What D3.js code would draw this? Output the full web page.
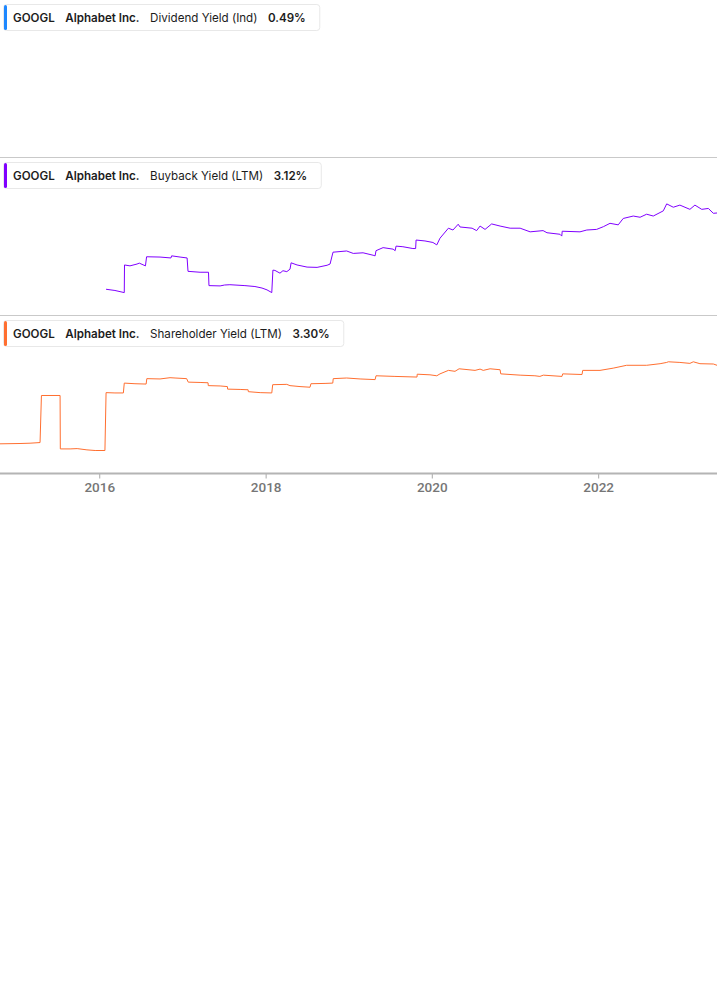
<!DOCTYPE html>
<html>
<head>
<meta charset="utf-8">
<script src="https://cdn.jsdelivr.net/npm/d3@7/dist/d3.min.js"></script>
<style>
  html, body { margin: 0; padding: 0; background: #fff; }
  svg { display: block; }
</style>
</head>
<body>
<svg id="chart" width="717" height="1005"></svg>
<script>
// ---------- DATA ----------
const ticker = "GOOGL";
const company = "Alphabet Inc.";
const seriesNames = ["Dividend Yield (Ind)", "Buyback Yield (LTM)", "Shareholder Yield (LTM)"];
const seriesLast = ["0.49%", "3.12%", "3.30%"];
const tickYears = [2016, 2018, 2020, 2022];

// Dividend yield: no visible history in the window
const dividendDates = [];
const dividendValues = [];

const buybackDates = [
  "2016-01-31","2016-03-10","2016-04-20","2016-04-21","2016-05-15","2016-06-15","2016-06-25","2016-07-22",
  "2016-07-27","2016-09-24","2016-11-11","2016-11-14","2016-12-21","2017-01-21",
  "2017-01-25","2017-03-19","2017-04-25",
  "2017-04-27","2017-06-15","2017-07-05","2017-07-28","2017-10-02","2017-11-15","2017-12-16","2018-01-07","2018-01-28",
  "2018-02-02","2018-02-11","2018-03-05","2018-03-18","2018-04-04","2018-04-18",
  "2018-04-23","2018-05-19","2018-07-02","2018-08-15","2018-09-28","2018-10-11",
  "2018-10-24","2018-12-23","2019-01-21","2019-03-05","2019-04-18","2019-04-27",
  "2019-05-01","2019-06-01","2019-07-15","2019-07-24",
  "2019-07-28","2019-08-27","2019-10-10","2019-10-22",
  "2019-10-24","2019-12-02","2020-01-06","2020-01-23",
  "2020-02-06","2020-03-14","2020-04-03","2020-04-26","2020-05-04","2020-06-26","2020-07-16","2020-07-31",
  "2020-08-22","2020-09-20","2020-10-27","2020-12-10","2021-01-23","2021-03-08","2021-05-04","2021-05-21",
  "2021-07-17","2021-07-25",
  "2021-07-27","2021-10-13","2021-11-12","2021-12-25","2022-01-24","2022-02-22","2022-03-30","2022-04-21",
  "2022-06-04","2022-07-04","2022-08-02","2022-08-31","2022-10-14","2022-10-29","2022-11-27","2022-12-26",
  "2023-02-08","2023-03-02","2023-04-01","2023-04-30","2023-05-22","2023-06-07"
];
const buybackValues = [
  0.61,0.57,0.50,1.41,1.38,1.44,1.47,1.38,
  1.68,1.67,1.64,1.71,1.67,1.64,
  1.20,1.17,1.17,
  0.73,0.72,0.75,0.76,0.73,0.70,0.65,0.59,0.50,
  1.24,1.23,1.14,1.22,1.19,1.27,
  1.48,1.41,1.34,1.33,1.40,1.44,
  1.83,1.87,1.79,1.81,1.73,1.71,
  1.88,1.98,1.93,1.88,
  2.03,2.01,1.95,1.95,
  2.23,2.20,2.15,2.07,
  2.29,2.62,2.56,2.75,2.66,2.62,2.54,2.69,
  2.58,2.76,2.69,2.62,2.62,2.50,2.54,2.47,
  2.42,2.36,
  2.52,2.50,2.56,2.58,2.67,2.78,2.73,2.94,
  3.02,2.98,3.08,3.02,3.19,3.42,3.31,3.38,
  3.24,3.38,3.24,3.27,3.11,3.12
];

const shareholderDates = [
  "2014-10-22","2015-01-18","2015-03-03","2015-04-16",
  "2015-04-22","2015-07-13",
  "2015-07-14","2015-08-26","2015-09-26","2015-11-08","2015-12-14","2016-01-26",
  "2016-01-31","2016-03-10","2016-04-16",
  "2016-04-20","2016-06-06","2016-07-25",
  "2016-07-28","2016-09-24","2016-11-07","2016-11-29","2017-01-19",
  "2017-01-26","2017-03-19","2017-04-23",
  "2017-04-24","2017-06-15","2017-07-17",
  "2017-07-18","2017-09-11","2017-10-16",
  "2017-10-17","2017-12-08","2018-01-28",
  "2018-02-01","2018-04-04","2018-04-18","2018-06-01","2018-07-15",
  "2018-07-19","2018-09-19","2018-10-23",
  "2018-10-25","2018-12-23","2019-02-20","2019-04-27",
  "2019-05-01","2019-07-23","2019-10-28",
  "2019-10-29","2019-12-24","2020-01-23","2020-02-06","2020-03-14","2020-04-12","2020-04-30","2020-07-09",
  "2020-07-31","2020-08-14","2020-09-13","2020-10-27",
  "2020-10-30","2021-01-23","2021-03-29","2021-04-20","2021-05-05","2021-07-26",
  "2021-07-29","2021-10-22",
  "2021-10-25","2022-01-09","2022-03-08","2022-05-06","2022-08-02","2022-09-30","2022-10-29","2022-11-05",
  "2022-12-26","2023-02-08","2023-02-23","2023-03-24","2023-05-22","2023-06-07"
];
const shareholderValues = [
  0.83,0.84,0.85,0.87,
  2.35,2.35,
  0.67,0.67,0.68,0.64,0.62,0.62,
  2.44,2.43,2.43,
  2.74,2.72,2.71,
  2.88,2.87,2.91,2.90,2.88,
  2.77,2.76,2.75,
  2.66,2.65,2.63,
  2.55,2.54,2.53,
  2.47,2.44,2.43,
  2.69,2.70,2.66,2.63,2.61,
  2.72,2.73,2.74,
  2.88,2.90,2.87,2.85,
  2.97,2.95,2.93,
  3.02,3.00,2.97,3.03,3.14,3.11,3.19,3.14,
  3.18,3.14,3.19,3.16,
  3.03,2.99,2.97,2.95,2.99,2.95,
  3.03,3.01,
  3.14,3.14,3.21,3.30,3.30,3.35,3.39,3.41,
  3.39,3.36,3.41,3.35,3.34,3.30
];

const seriesColors = ["#1e88ff", "#8000ff", "#ff6f30"];

// ---------- LAYOUT ----------
const W = 717;
const panelTops = [0, 158, 316];
const panelH = 157.6;
const axisY = 473.5;
const yDomains = [[0, 1], [-0.27, 4.93], [-0.1, 4.85]];

const svg = d3.select("#chart");
const parse = d3.utcParse("%Y-%m-%d");

const x = d3.scaleUtc()
  .domain([parse("2014-10-22"), parse("2023-06-07")])
  .range([0, W]);

const allSeries = [
  {dates: dividendDates, values: dividendValues},
  {dates: buybackDates, values: buybackValues},
  {dates: shareholderDates, values: shareholderValues}
];

// separators
[157.5, 315.5].forEach(yy => {
  svg.append("line").attr("x1", 0).attr("x2", W).attr("y1", yy).attr("y2", yy)
    .attr("stroke", "#c9c9c9").attr("stroke-width", 1);
});

allSeries.forEach((s, i) => {
  const top = panelTops[i];
  const bottom = i === 2 ? 473.4 : top + panelH + 0.4;
  const y = d3.scaleLinear().domain(yDomains[i]).range([bottom, top]);
  const pts = s.dates.map((d, k) => [parse(d), s.values[k]]);
  if (pts.length) {
    const line = d3.line().x(d => x(d[0])).y(d => y(d[1]));
    svg.append("path").datum(pts)
      .attr("d", line)
      .attr("fill", "none")
      .attr("stroke", seriesColors[i])
      .attr("stroke-width", 1)
      .attr("stroke-linejoin", "round");
  }
});

// legends
allSeries.forEach((s, i) => {
  const top = panelTops[i];
  const g = svg.append("g");
  const box = g.append("rect")
    .attr("x", 3.5).attr("y", top + 4.5).attr("height", 26).attr("rx", 3)
    .attr("fill", "#fff").attr("stroke", "#e8e8e8").attr("stroke-width", 1);
  g.append("rect").attr("x", 4).attr("y", top + 5).attr("width", 3).attr("height", 25)
    .attr("rx", 1.5).attr("fill", seriesColors[i]);
  const parts = [
    {t: ticker, w: 600},
    {t: company, w: 600},
    {t: seriesNames[i], w: 400},
    {t: seriesLast[i], w: 600}
  ];
  let cx = 13;
  const gap = 10.5;
  parts.forEach((p, k) => {
    const t = g.append("text")
      .attr("x", cx).attr("y", top + 21.5)
      .attr("font-family", "Inter, 'Noto Sans', sans-serif")
      .attr("font-size", 11.6)
      .attr("font-weight", p.w)
      .attr("fill", "#1c1c1c")
      .text(p.t);
    cx += t.node().getComputedTextLength() + gap;
  });
  box.attr("width", cx - gap + 14 - 3.5);
});

// axis
const axis = d3.axisBottom(x)
  .tickValues(tickYears.map(yy => new Date(Date.UTC(yy, 0, 1))))
  .tickFormat(d3.utcFormat("%Y"))
  .tickSize(5)
  .tickPadding(4);
const ag = svg.append("g").attr("transform", `translate(0,${axisY})`).call(axis);
ag.select(".domain").remove();
ag.selectAll(".tick line").attr("stroke", "#a8a8a8");
ag.selectAll(".tick text")
  .attr("fill", "#767676")
  .attr("font-family", "Roboto, 'Liberation Sans', sans-serif")
  .attr("font-size", 13.5)
  .attr("font-weight", 500);
svg.append("line").attr("x1", 0).attr("x2", W).attr("y1", axisY).attr("y2", axisY)
  .attr("stroke", "#b4b4b4").attr("stroke-width", 2);
</script>
</body>
</html>
